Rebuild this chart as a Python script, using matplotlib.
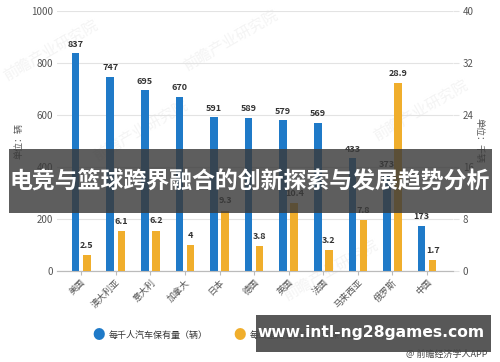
import matplotlib
matplotlib.use("Agg")
import matplotlib.pyplot as plt
import numpy as np
from matplotlib.patches import Rectangle

plt.rcParams["font.family"] = ["Noto Sans CJK SC", "DejaVu Sans"]

countries = ["美国", "澳大利亚", "意大利", "加拿大", "日本", "德国",
             "英国", "法国", "马来西亚", "俄罗斯", "中国"]
cars_per_1000 = [837, 747, 695, 670, 591, 589, 579, 569, 433, 373, 173]
cars_per_km = [2.5, 6.1, 6.2, 4, 9.3, 3.8, 10.4, 3.2, 7.8, 28.9, 1.7]
cars_per_km_labels = ["2.5", "6.1", "6.2", "4", "9.3", "3.8", "10.4", "3.2", "7.8", "28.9", "1.7"]

left_ticks = [0, 200, 400, 600, 800, 1000]
right_ticks = [0, 8, 16, 24, 32, 40]

BLUE = "#1f7ac8"
ORANGE = "#f0ae2c"
GRID = "#e3e3e3"
TXT = "#555555"

fig = plt.figure(figsize=(5.0, 3.62), dpi=100)

# faint background watermarks, behind everything
for wx, wy in [(50, 50), (230, 40), (140, 130), (420, 110), (330, 270)]:
    fig.text(wx / 500, 1 - wy / 362, "前瞻产业研究院", fontsize=11, color="#f4f4f4",
             rotation=30, ha="center", va="center", zorder=-5)

ax = fig.add_axes([0.114, 0.2514, 0.792, 0.7182])
ax2 = ax.twinx()
ax.patch.set_visible(False)
ax2.patch.set_visible(False)

x = np.arange(len(countries))
w = 0.22
off = 0.16

ax.bar(x - off, cars_per_1000, width=w, color=BLUE, zorder=3)
ax2.bar(x + off, cars_per_km, width=w, color=ORANGE, zorder=3)

for xi, v in zip(x, cars_per_1000):
    ax.text(xi - off, v + 18, str(v), ha="center", va="bottom",
            fontsize=6.5, fontweight="bold", color="#333333")
for xi, v, s in zip(x, cars_per_km, cars_per_km_labels):
    ax2.text(xi + off, v + 0.8, s, ha="center", va="bottom",
             fontsize=6.5, fontweight="bold", color="#333333")

ax.set_xlim(-0.7, 10.75)
ax.set_ylim(0, 1000)
ax2.set_ylim(0, 40)
ax.set_yticks(left_ticks)
ax2.set_yticks(right_ticks)
ax.yaxis.grid(True, color=GRID, linewidth=0.8, zorder=0)
ax.set_axisbelow(True)

ax.set_xticks(x)
ax.set_xticklabels(countries, rotation=45, ha="right", va="top",
                   rotation_mode="anchor", fontsize=6.5, color=TXT)
ax.tick_params(axis="x", length=3, color="#bbbbbb", pad=2)
ax.tick_params(axis="y", length=0, labelsize=7, labelcolor=TXT, pad=3)
ax2.tick_params(axis="y", length=4, color=GRID, labelsize=7, labelcolor=TXT, pad=3)

for a in (ax, ax2):
    for s in ("top", "left", "right"):
        a.spines[s].set_visible(False)
    a.spines["bottom"].set_color("#bbbbbb")

ax.set_ylabel("单位：辆", fontsize=6.5, color=TXT, labelpad=5)
ax2.set_ylabel("单位：千辆", fontsize=6.5, color=TXT, rotation=270, labelpad=7)

# legend
fig.text(99 / 500, 1 - 335 / 362, "●", color=BLUE, fontsize=9, ha="center", va="center")
fig.text(109 / 500, 1 - 335 / 362, "每千人汽车保有量（辆）", color="#333333", fontsize=6.5,
         ha="left", va="center")
fig.text(240 / 500, 1 - 335 / 362, "●", color=ORANGE, fontsize=9, ha="center", va="center")
fig.text(250 / 500, 1 - 335 / 362, "每公里高速公路汽车保有量（千辆）", color="#333333", fontsize=6.5,
         ha="left", va="center")

# title banner
fig.patches.append(Rectangle((9 / 500, 1 - 213 / 362), 483 / 500, 64 / 362,
                             transform=fig.transFigure, facecolor="#3a3a3a",
                             alpha=0.82, zorder=10))
fig.text(250 / 500, 1 - 182 / 362, "电竞与篮球跨界融合的创新探索与发展趋势分析",
         fontsize=16.5, fontweight="bold", color="white", ha="center", va="center", zorder=11)

# site banner
fig.patches.append(Rectangle((256 / 500, 1 - 352 / 362), 235 / 500, 37 / 362,
                             transform=fig.transFigure, facecolor="#4a4a4a",
                             alpha=0.92, zorder=10))
fig.text(371 / 500, 1 - 333 / 362, "www.intl-ng28games.com", fontsize=11.2,
         fontweight="bold", color="white", ha="center", va="center", zorder=11,
         family="DejaVu Sans")
fig.text(488 / 500, 1 - 354 / 362, "@ 前瞻经济学人APP", fontsize=6.5, color="#444444",
         ha="right", va="center", zorder=12)

fig.savefig("out.png", dpi=100)
